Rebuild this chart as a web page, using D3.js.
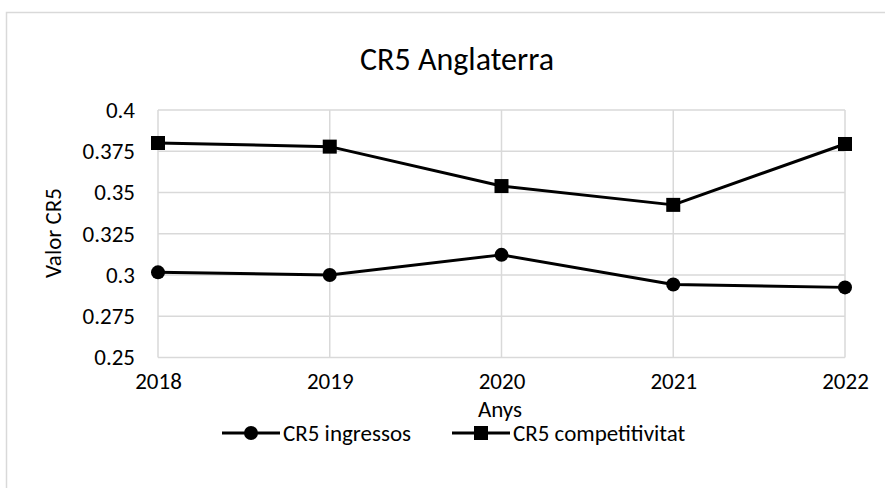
<!DOCTYPE html>
<html>
<head>
<meta charset="utf-8">
<script src="https://cdn.jsdelivr.net/npm/d3@7"></script>
<style>
  body { margin: 0; background: #fff; }
  svg { display: block; font-family: Carlito, Calibri, Lato, sans-serif; }
</style>
</head>
<body>
<svg id="chart" width="885" height="488"></svg>
<script>
var years = ['2018', '2019', '2020', '2021', '2022'];
var ingressos = [0.3016, 0.3000, 0.3122, 0.2942, 0.2925];
var competitivitat = [0.3800, 0.3778, 0.3539, 0.3425, 0.3794];
var yTicks = [0.25, 0.275, 0.3, 0.325, 0.35, 0.375, 0.4];

var svg = d3.select('#chart');
var textColor = '#000';
var gridColor = '#d9d9d9';
var fs = 23;

// chart area border
svg.append('rect')
    .attr('x', 6.5)
    .attr('y', 12.5)
    .attr('width', 910)
    .attr('height', 500)
    .attr('fill', 'none')
    .attr('stroke', gridColor)
    .attr('stroke-width', 1.5);

var x = d3.scalePoint()
    .domain(years)
    .range([158, 845]);

var y = d3.scaleLinear()
    .domain([0.25, 0.4])
    .range([357.5, 110]);

// gridlines
svg.append('g')
    .selectAll('line.h')
    .data(yTicks)
    .join('line')
    .attr('x1', 158)
    .attr('x2', 845)
    .attr('y1', d => y(d))
    .attr('y2', d => y(d))
    .attr('stroke', gridColor)
    .attr('stroke-width', 1.5);

svg.append('g')
    .selectAll('line.v')
    .data(years)
    .join('line')
    .attr('x1', d => x(d))
    .attr('x2', d => x(d))
    .attr('y1', y(0.4))
    .attr('y2', y(0.25))
    .attr('stroke', gridColor)
    .attr('stroke-width', 1.5);

// axes (labels only)
var yAxis = d3.axisLeft(y)
    .tickValues(yTicks)
    .tickSize(0)
    .tickPadding(0)
    .tickFormat(d => String(+d.toFixed(3)));

var gy = svg.append('g')
    .attr('transform', 'translate(135,0)')
    .call(yAxis);
gy.attr('font-size', null).attr('font-family', null);
gy.select('.domain').remove();
gy.selectAll('text')
    .attr('font-size', fs)
    .attr('fill', textColor);

var xAxis = d3.axisBottom(x).tickSize(0).tickPadding(0);
var gx = svg.append('g')
    .attr('transform', 'translate(0,373)')
    .call(xAxis);
gx.attr('font-size', null).attr('font-family', null);
gx.select('.domain').remove();
gx.selectAll('text')
    .attr('font-size', fs)
    .attr('fill', textColor);

// titles
svg.append('text')
    .text('CR5 Anglaterra')
    .attr('x', 457)
    .attr('y', 70)
    .attr('text-anchor', 'middle')
    .attr('font-size', 32)
    .attr('fill', textColor);

svg.append('text')
    .text('Valor CR5')
    .attr('transform', 'translate(61,233) rotate(-90)')
    .attr('text-anchor', 'middle')
    .attr('font-size', fs)
    .attr('fill', textColor);

svg.append('text')
    .text('Anys')
    .attr('x', 500)
    .attr('y', 417)
    .attr('text-anchor', 'middle')
    .attr('font-size', fs)
    .attr('fill', textColor);

// series
var line = d3.line()
    .x((d, i) => x(years[i]))
    .y(d => y(d));

svg.append('path')
    .datum(ingressos)
    .attr('d', line)
    .attr('fill', 'none')
    .attr('stroke', '#000')
    .attr('stroke-width', 3)
    .attr('stroke-linejoin', 'round');

svg.append('path')
    .datum(competitivitat)
    .attr('d', line)
    .attr('fill', 'none')
    .attr('stroke', '#000')
    .attr('stroke-width', 3)
    .attr('stroke-linejoin', 'round');

svg.append('g')
    .selectAll('circle')
    .data(ingressos)
    .join('circle')
    .attr('cx', (d, i) => x(years[i]))
    .attr('cy', d => y(d))
    .attr('r', 7)
    .attr('fill', '#000');

svg.append('g')
    .selectAll('rect')
    .data(competitivitat)
    .join('rect')
    .attr('x', (d, i) => x(years[i]) - 7)
    .attr('y', d => y(d) - 7)
    .attr('width', 14)
    .attr('height', 14)
    .attr('fill', '#000');

// legend
var legend = svg.append('g').attr('transform', 'translate(0,433)');

var item1 = legend.append('g').attr('transform', 'translate(222,0)');
item1.append('line')
    .attr('x1', 0).attr('x2', 58)
    .attr('stroke', '#000').attr('stroke-width', 3);
item1.append('circle')
    .attr('cx', 29).attr('r', 7).attr('fill', '#000');
item1.append('text')
    .text('CR5 ingressos')
    .attr('x', 61)
    .attr('dy', '0.35em')
    .attr('font-size', fs)
    .attr('fill', textColor);

var item2 = legend.append('g').attr('transform', 'translate(452,0)');
item2.append('line')
    .attr('x1', 0).attr('x2', 58)
    .attr('stroke', '#000').attr('stroke-width', 3);
item2.append('rect')
    .attr('x', 22).attr('y', -7)
    .attr('width', 14).attr('height', 14)
    .attr('fill', '#000');
item2.append('text')
    .text('CR5 competitivitat')
    .attr('x', 61)
    .attr('dy', '0.35em')
    .attr('font-size', fs)
    .attr('fill', textColor);
</script>
</body>
</html>
